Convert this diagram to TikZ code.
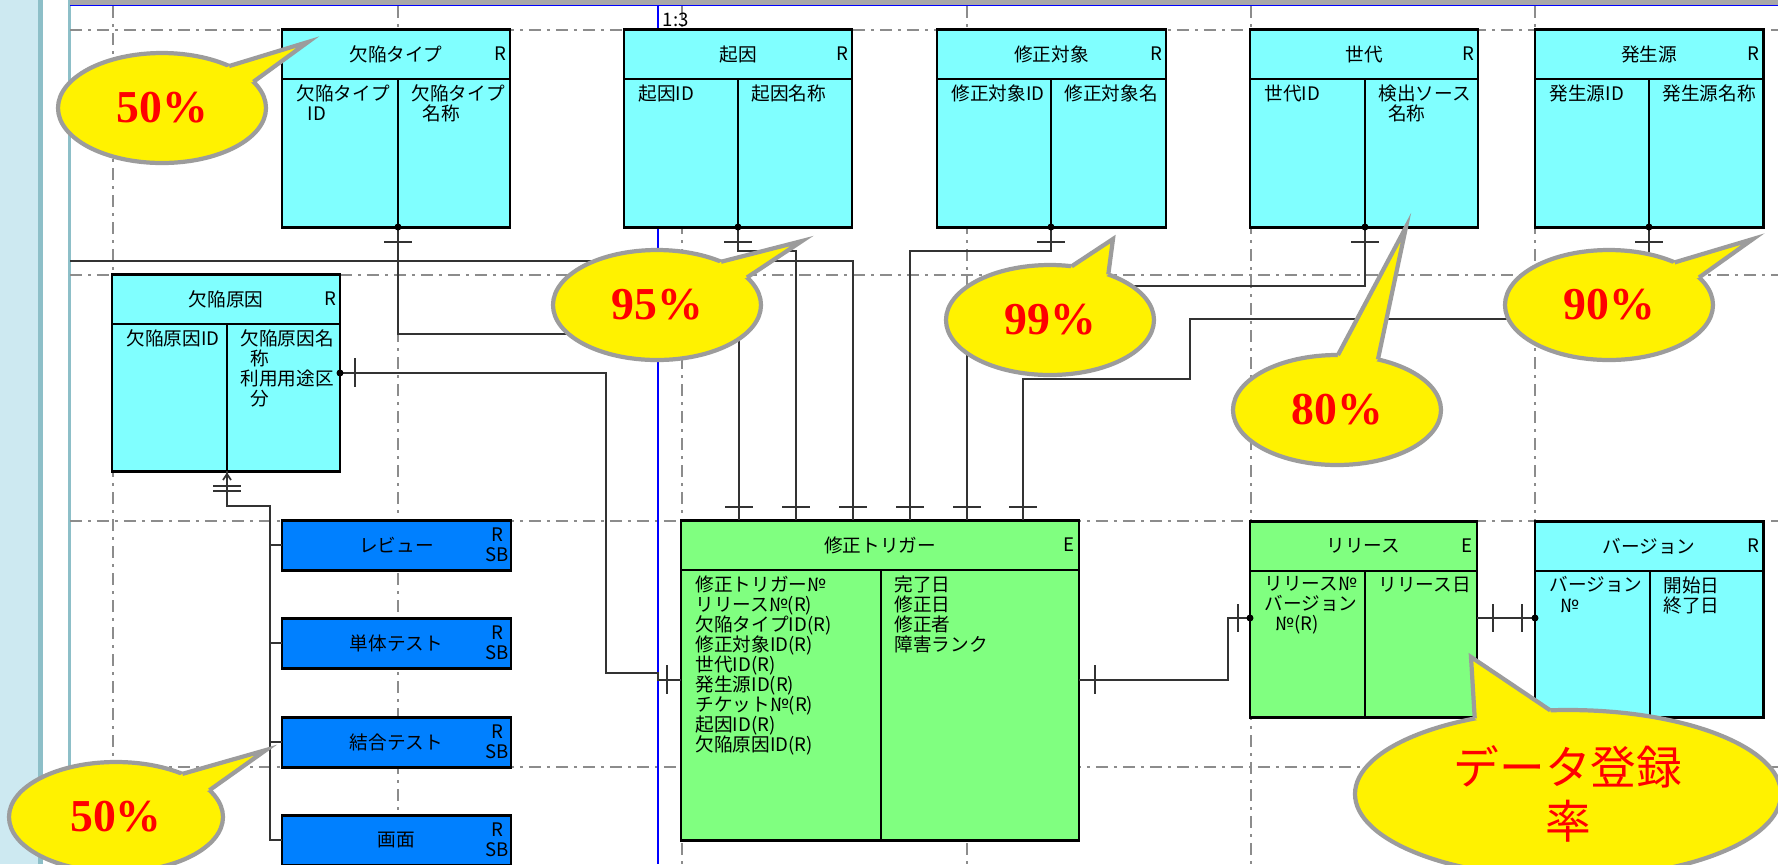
\documentclass[tikz,border=0pt]{standalone}
\usepackage{fontspec}
\setmainfont{Liberation Serif}
\newfontfamily\jp{Noto Sans CJK JP}
\usetikzlibrary{shapes.geometric,fit,calc}
\definecolor{cyanbox}{HTML}{80FFFF}
\definecolor{greenbox}{HTML}{80FF80}
\definecolor{bluebox}{HTML}{0080FF}
\definecolor{bubgray}{HTML}{9C9C9C}
\definecolor{gridgray}{HTML}{8C8C8C}
\definecolor{sidebg}{HTML}{CDE9F1}
\definecolor{sideline}{HTML}{8DBFC8}
\definecolor{topgray}{HTML}{A8A8A8}

\begin{document}
\begin{tikzpicture}[x=0.1mm, y=-0.1mm,
  box/.style={rectangle, draw=black, line width=0.85pt, fill=#1, inner sep=0pt, outer sep=0pt},
  ttl/.style={font=\jp\fontsize{5.3}{5.7}\selectfont, inner sep=0pt},
  fld/.style={ttl, anchor=north west, align=left},
  rel/.style={line width=0.5pt, draw=black!80},
  grd/.style={draw=gridgray, line width=0.45pt, dash pattern=on 1.2mm off 0.6mm on 0.3mm off 0.6mm},
  bub/.style={ellipse, fill=yellow, draw=bubgray, line width=1.2pt, outer sep=0pt, inner sep=0pt,
              minimum width=20.8mm, minimum height=11mm, text=red, font=\bfseries\fontsize{13}{15}\selectfont},
  tail/.style={draw=bubgray, line width=1.2pt},
]
\newcommand{\entity}[4]{% node name, divider x, title, tag
  \coordinate (#1-h) at ($(#1.north)+(0,50)$);
  \coordinate (#1-d) at (#2,0 |- #1.south);
  \draw[line width=0.5pt] (#1.west |- #1-h) -- (#1.east |- #1-h);
  \draw[line width=0.5pt] (#1-d) -- (#1-d |- #1-h);
  \node[ttl] (#1-t) at ($(#1.north)+(0,25)$) {#3};
  \node[ttl] (#1-g) at ($(#1.north east)+(-10,25)$) {#4};}
\newcommand{\fields}[3]{% node name, left column, right column
  \node[fld] (#1-a) at ($(#1.west |- #1-h)+(14,5)$) {#2};
  \node[fld] (#1-b) at ($(#1-d |- #1-h)+(13,5)$) {#3};}
\newcommand{\subent}[3]{% node name, top y, title
  \node[box=bluebox, fit={(282,#2) (511,{#2+50})}] (#1) {};
  \node[ttl] (#1-t) at (#1.center) {#3};
  \node[ttl, align=center] (#1-g) at ($(#1.east)+(-14,0)$) {R\\SB};}
\newcommand{\callout}[4]{% bubble node, tip, base angle 1, base angle 2
  \fill[yellow] (#1.#3) -- (#2) -- (#1.#4) -- ($(#1.center)!.75!(#1.#4)$) -- ($(#1.center)!.75!(#1.#3)$) -- cycle;
  \draw[tail] (#1.#3) -- (#2) -- (#1.#4);}

% ---------- frame and grid ----------
\clip (0,0) rectangle (1778,864);
\fill[white] (0,0) rectangle (1778,864);
\fill[sidebg] (0,0) rectangle (38,864);
\fill[sideline] (38,0) rectangle (43,864);
\draw[sideline, line width=0.6pt] (69.5,0) -- (69.5,864);
\fill[topgray] (70,0) rectangle (1778,4.5);
\draw[blue, line width=0.45pt] (70,5.5) -- (1778,5.5);
\foreach \x in {113,398,682,967,1251,1535} \draw[grd] (\x,6) -- (\x,864);
\foreach \y in {30,275,521,767} \draw[grd] (70,\y) -- (1778,\y);
\draw[blue, line width=0.45pt] (658,6) -- (658,864);
\node[ttl, anchor=west] (ratio) at (662,20) {1:3};

% ---------- reference entities ----------
\node[box=cyanbox, fit={(282,29) (510,227)}] (kt) {};
\entity{kt}{398}{欠陥タイプ}{R}
\fields{kt}{欠陥タイプ\\\hspace*{.6em}ID}{欠陥タイプ\\\hspace*{.6em}名称}
\node[box=cyanbox, fit={(624,29) (852,227)}] (ki) {};
\entity{ki}{738}{起因}{R}
\fields{ki}{起因ID}{起因名称}
\node[box=cyanbox, fit={(937,29) (1166,227)}] (st) {};
\entity{st}{1051}{修正対象}{R}
\fields{st}{修正対象ID}{修正対象名}
\node[box=cyanbox, fit={(1250,29) (1478,227)}] (sd) {};
\entity{sd}{1365}{世代}{R}
\fields{sd}{世代ID}{検出ソース\\\hspace*{.5em}名称}
\node[box=cyanbox, fit={(1535,29) (1763,227)}] (hs) {};
\entity{hs}{1649}{発生源}{R}
\fields{hs}{発生源ID}{発生源名称}
\node[box=cyanbox, fit={(112,274) (340,471)}] (gg) {};
\entity{gg}{227}{欠陥原因}{R}
\fields{gg}{欠陥原因ID}{欠陥原因名\\\hspace*{.5em}称\\利用用途区\\\hspace*{.5em}分}

% ---------- subtypes ----------
\subent{rv}{520}{レビュー}
\subent{ut}{618}{単体テスト}
\subent{it}{717}{結合テスト}
\subent{gm}{815}{画面}

% ---------- trigger, release, version ----------
\node[box=greenbox, fit={(681,520) (1079,840)}] (trg) {};
\entity{trg}{881}{修正トリガー}{E}
\fields{trg}{修正トリガー№\\リリース№(R)\\欠陥タイプID(R)\\修正対象ID(R)\\世代ID(R)\\発生源ID(R)\\チケット№(R)\\起因ID(R)\\欠陥原因ID(R)}{完了日\\修正日\\修正者\\障害ランク}
\node[box=greenbox, fit={(1250,521) (1477,717)}] (rls) {};
\entity{rls}{1365}{リリース}{E}
\fields{rls}{リリース№\\バージョン\\\hspace*{.6em}№(R)}{リリース日}
\node[box=cyanbox, fit={(1535,521) (1763,717)}] (ver) {};
\entity{ver}{1650}{バージョン}{R}
\fields{ver}{バージョン\\\hspace*{.6em}№}{開始日\\終了日}

% ---------- relations ----------
\foreach \n/\x in {1/739,2/796,3/853,4/910,5/967,6/1023} \coordinate (tr\n) at (\x,0 |- trg.north);
\coordinate (offl) at (70,261);
\coordinate (gg-r) at (gg.east |- 0,373);
\coordinate (rls-l) at (rls.west |- 0,618);
\coordinate (rls-r) at (rls.east |- 0,618);
\coordinate (ver-l) at (ver.west |- 0,618);
\coordinate (bus) at (270,506);
\draw[rel] (kt-d) -- ++(0,107) -| (tr1);
\draw[rel] (ki-d) -- ++(0,24) -| (tr2);
\draw[rel] (offl) -| (tr3);
\draw[rel] (st-d) -- ++(0,24) -| (tr4);
\draw[rel] (sd-d) -- ++(0,59) -| (tr5);
\draw[rel] (hs-d) -- ++(0,92) -| ++(-459,60) -| (tr6);
\draw[rel] (gg-r) -| ++(266,300) -- ++(52,0) |- (trg.west);
\draw[rel] (trg.east) -- ++(149,0) |- (rls-l);
\draw[rel] (rls-r) -- (ver-l);
\draw[rel] (gg-d) |- (bus) -- (bus |- gm.west) -- (gm.west);
\foreach \s in {rv,ut,it} \draw[rel] (bus |- \s.west) -- (\s.west);
% ticks
\foreach \c in {kt-d,ki-d,st-d,sd-d,hs-d} \draw[rel] ($(\c)+(-14,15)$) -- ++(28,0);
\foreach \n in {1,...,6} \draw[rel] ($(tr\n)+(-14,-13)$) -- ++(28,0);
\draw[rel] ($(gg-d)+(-14,15)$) -- ++(28,0);
\draw[rel] ($(gg-d)+(-14,20)$) -- ++(28,0);
\draw[rel] ($(gg-d)+(-4,9)$) -- ($(gg-d)+(0,3)$) -- ($(gg-d)+(4,9)$);
\draw[rel] ($(gg-r)+(15,-15)$) -- ++(0,29);
\draw[rel] ($(trg.west)+(-14,-15)$) -- ++(0,29);
\draw[rel] ($(trg.east)+(16,-15)$) -- ++(0,29);
\draw[rel] ($(rls-l)+(-12,-14)$) -- ++(0,28);
\draw[rel] ($(rls-r)+(16,-14)$) -- ++(0,28);
\draw[rel] ($(ver-l)+(-13,-14)$) -- ++(0,28);
\foreach \c in {kt-d,ki-d,st-d,sd-d,hs-d,gg-r,rls-l,ver-l} \fill (\c) circle (0.35mm);

% ---------- callouts ----------
\node[bub] (p1) at (162,108) {50\%};   \callout{p1}{308,42}{32}{16}
\node[bub] (p2) at (657,305) {95\%};   \callout{p2}{802,241}{34}{17}
\node[bub] (p3) at (1050,320) {99\%};  \callout{p3}{1113,239}{68}{38}
\node[bub] (p4) at (1337,410) {80\%};  \callout{p4}{1406,227}{89}{51}
\node[bub] (p5) at (1609,305) {90\%};  \callout{p5}{1753,239}{33}{17}
\node[bub, minimum width=21.4mm] (p6) at (116,817) {50\%};  \callout{p6}{266,750}{33}{16}
\node[bub, minimum width=42.6mm, minimum height=16.8mm, align=center,
      font=\jp\fontsize{13}{15.4}\selectfont] (p7) at (1568,794) {データ登録\\率};
\callout{p7}{1471,657}{141}{102}
\end{tikzpicture}
\end{document}
